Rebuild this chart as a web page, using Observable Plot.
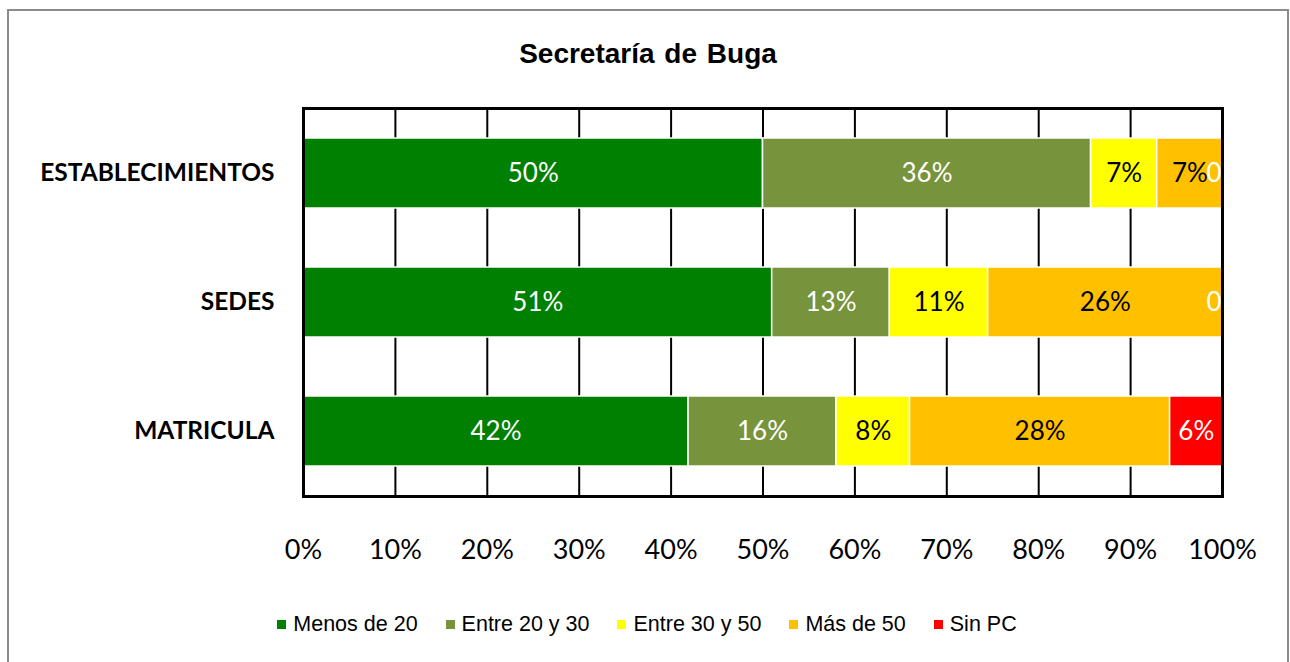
<!DOCTYPE html>
<html>
<head>
<meta charset="utf-8">
<script src="https://cdn.jsdelivr.net/npm/d3@7"></script>
<script src="https://cdn.jsdelivr.net/npm/@observablehq/plot@0.6"></script>
<style>
  html, body { margin: 0; padding: 0; background: #fff; width: 1290px; height: 662px; overflow: hidden; }
  #border { position: absolute; left: 7px; top: 9px; width: 1282px; height: 700px; border: 2px solid #8c8c8c; box-sizing: border-box; }
  #title { position: absolute; left: 0; top: 40px; width: 1296px; text-align: center; font-family: "Liberation Sans", Arial, sans-serif; font-weight: bold; font-size: 28px; line-height: 28px; word-spacing: 2px; color: #000; }
  #chart { position: absolute; left: 0; top: 90px; }
  #legend { position: absolute; left: 2px; top: 612px; width: 1290px; display: flex; justify-content: center; align-items: center; font-family: "Liberation Sans", Arial, sans-serif; font-size: 21.5px; line-height: 24px; color: #000; }
  .item { display: flex; align-items: center; margin: 0 14px; }
  .sw { width: 9px; height: 9px; margin-right: 7px; }
</style>
</head>
<body>
<div id="border"></div>
<div id="title">Secretaría de Buga</div>
<div id="chart"></div>
<div id="legend"></div>
<script>
const categories = ["ESTABLECIMIENTOS", "SEDES", "MATRICULA"];
const series = ["Menos de 20", "Entre 20 y 30", "Entre 30 y 50", "Más de 50", "Sin PC"];
const colors = ["#008000", "#77933C", "#FFFF00", "#FFC000", "#FF0000"];
const labelColors = ["white", "white", "black", "black", "white"];
const establecimientos = [50.0, 35.7, 7.2, 7.1, 0];
const sedes = [51.0, 12.8, 10.7, 25.5, 0];
const matricula = [41.9, 16.1, 8.0, 28.3, 5.7];
const xTicks = [0, 10, 20, 30, 40, 50, 60, 70, 80, 90, 100];
const gridTicks = [10, 20, 30, 40, 50, 60, 70, 80, 90];

const valuesByCategory = [establecimientos, sedes, matricula];
const data = [];
categories.forEach((c, i) => {
  series.forEach((s, j) => {
    data.push({category: c, series: s, value: valuesByCategory[i][j], labelColor: labelColors[j]});
  });
});
const pct = d => Math.round(d.value) + "%";

const chart = Plot.plot({
  width: 1290,
  height: 476,
  marginLeft: 303,
  marginRight: 68,
  marginTop: 18,
  marginBottom: 70,
  style: {fontFamily: "Lato, sans-serif", background: "transparent", overflow: "visible", color: "#000"},
  x: {domain: [0, 100], label: null},
  y: {domain: categories, paddingInner: 0.454, paddingOuter: 0.223, label: null},
  color: {domain: series, range: colors},
  marks: [
    Plot.gridX(gridTicks, {stroke: "black", strokeOpacity: 1, strokeWidth: 2}),
    Plot.barX(data, Plot.stackX({x: "value", y: "category", fill: "series", stroke: "white", strokeWidth: 1.5})),
    Plot.text(data, Plot.stackX({x: "value", y: "category", z: "series",
      text: d => (d.value > 0 && d.labelColor === "white") ? pct(d) : null, fill: "white", fontSize: 26})),
    Plot.text(data, Plot.stackX({x: "value", y: "category", z: "series",
      text: d => (d.value > 0 && d.labelColor === "black") ? pct(d) : null, fill: "black", fontSize: 26})),
    Plot.text(data, Plot.stackX({x: "value", y: "category", z: "series",
      text: d => d.value === 0 ? "0" : null, fill: "white", fontSize: 26, textAnchor: "end", dx: -1})),
    Plot.frame({stroke: "black", strokeWidth: 3}),
    Plot.axisX({ticks: xTicks, tickFormat: d => d + "%", tickSize: 0, tickPadding: 43, fontSize: 27, label: null}),
    Plot.axisY({tickSize: 0, tickPadding: 29, fontSize: 24.5, fontWeight: "bold", label: null})
  ]
});
document.getElementById("chart").appendChild(chart);

const legend = document.getElementById("legend");
series.forEach((s, i) => {
  const item = document.createElement("div");
  item.className = "item";
  const sw = document.createElement("span");
  sw.className = "sw";
  sw.style.background = colors[i];
  const t = document.createElement("span");
  t.textContent = s;
  item.appendChild(sw);
  item.appendChild(t);
  legend.appendChild(item);
});
</script>
</body>
</html>
